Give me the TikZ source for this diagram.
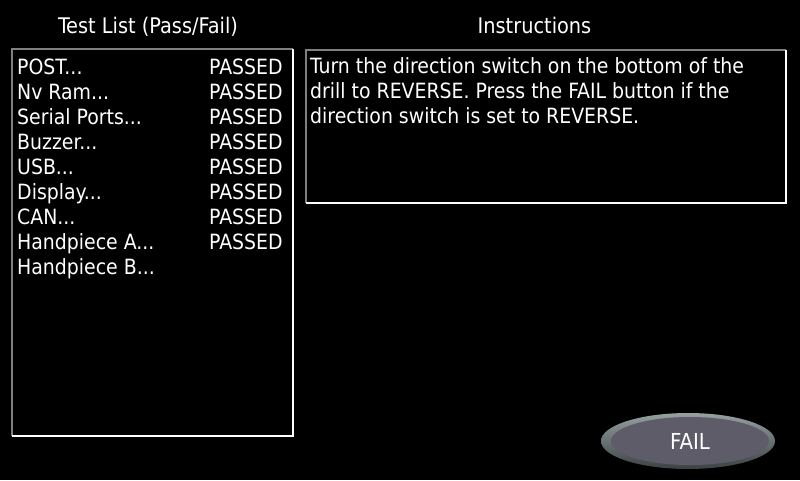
\documentclass[tikz,border=0pt]{standalone}
\usepackage{fontspec}
\setmainfont{DejaVu Sans Condensed}
\usetikzlibrary{shapes.geometric}
\definecolor{bevelgray}{RGB}{128,128,128}
\definecolor{btnface}{RGB}{94,92,104}
\definecolor{btnlight}{RGB}{150,160,160}
\definecolor{btndark}{RGB}{60,66,68}
\tikzset{
  txt/.style={anchor=base west, inner sep=0pt, text=white, font=\fontsize{21}{25}\selectfont},
  head/.style={txt, anchor=base, font=\fontsize{21.5}{25}\selectfont},
  panel/.style={inner sep=0pt, minimum width=#1},
}
\begin{document}
\begin{tikzpicture}[x=1pt,y=-1pt]
	\fill[black] (0,0) rectangle (800,480);
	\useasboundingbox (0,0) rectangle (800,480);

	% headings
	\draw (148,33) node[head] (listhead) {Test List (Pass/Fail)};
	\draw (534.5,33) node[head] (instrhead) {Instructions};

	% panels
	\node[panel=281pt, minimum height=387pt] (list) at (152.5,242.5) {};
	\node[panel=480pt, minimum height=153pt] (instr) at (546,126.5) {};
	\draw[bevelgray, line width=2pt] (list.south west) -- (list.north west) -- (list.north east);
	\draw[white, line width=2.5pt] (list.north east) -- (list.south east) -- (list.south west);
	\draw[bevelgray, line width=2pt] (instr.south west) -- (instr.north west) -- (instr.north east);
	\draw[white, line width=2.5pt] (instr.north east) -- (instr.south east) -- (instr.south west);

	% test list
	\draw (17,74) node[txt] (post) {POST...};
	\draw (17,99) node[txt] (nvram) {Nv Ram...};
	\draw (17,124) node[txt] (serial) {Serial Ports...};
	\draw (17,149) node[txt] (buzzer) {Buzzer...};
	\draw (17,174) node[txt] (usb) {USB...};
	\draw (17,199) node[txt] (display) {Display...};
	\draw (17,224) node[txt] (can) {CAN...};
	\draw (17,249) node[txt] (handa) {Handpiece A...};
	\draw (17,274) node[txt] (handb) {Handpiece B...};

	\draw (209,74) node[txt] (postres) {PASSED};
	\draw (209,99) node[txt] (nvramres) {PASSED};
	\draw (209,124) node[txt] (serialres) {PASSED};
	\draw (209,149) node[txt] (buzzerres) {PASSED};
	\draw (209,174) node[txt] (usbres) {PASSED};
	\draw (209,199) node[txt] (displayres) {PASSED};
	\draw (209,224) node[txt] (canres) {PASSED};
	\draw (209,249) node[txt] (handares) {PASSED};

	% instructions
	\draw (310,73) node[txt] (line1) {Turn the direction switch on the bottom of the};
	\draw (310,98) node[txt] (line2) {drill to REVERSE. Press the FAIL button if the};
	\draw (310,123) node[txt] (line3) {direction switch is set to REVERSE.};

	% fail button
	\node[ellipse, minimum width=174pt, minimum height=56pt, inner sep=0pt,
		top color=btnlight, bottom color=btndark] (failring) at (688,441) {};
	\node[ellipse, minimum width=158pt, minimum height=48pt, inner sep=0pt,
		fill=btnface] (failface) at (690,441) {};
	\node[text=white, font=\fontsize{22}{26}\selectfont] (fail) at (failface) {FAIL};
\end{tikzpicture}
\end{document}
